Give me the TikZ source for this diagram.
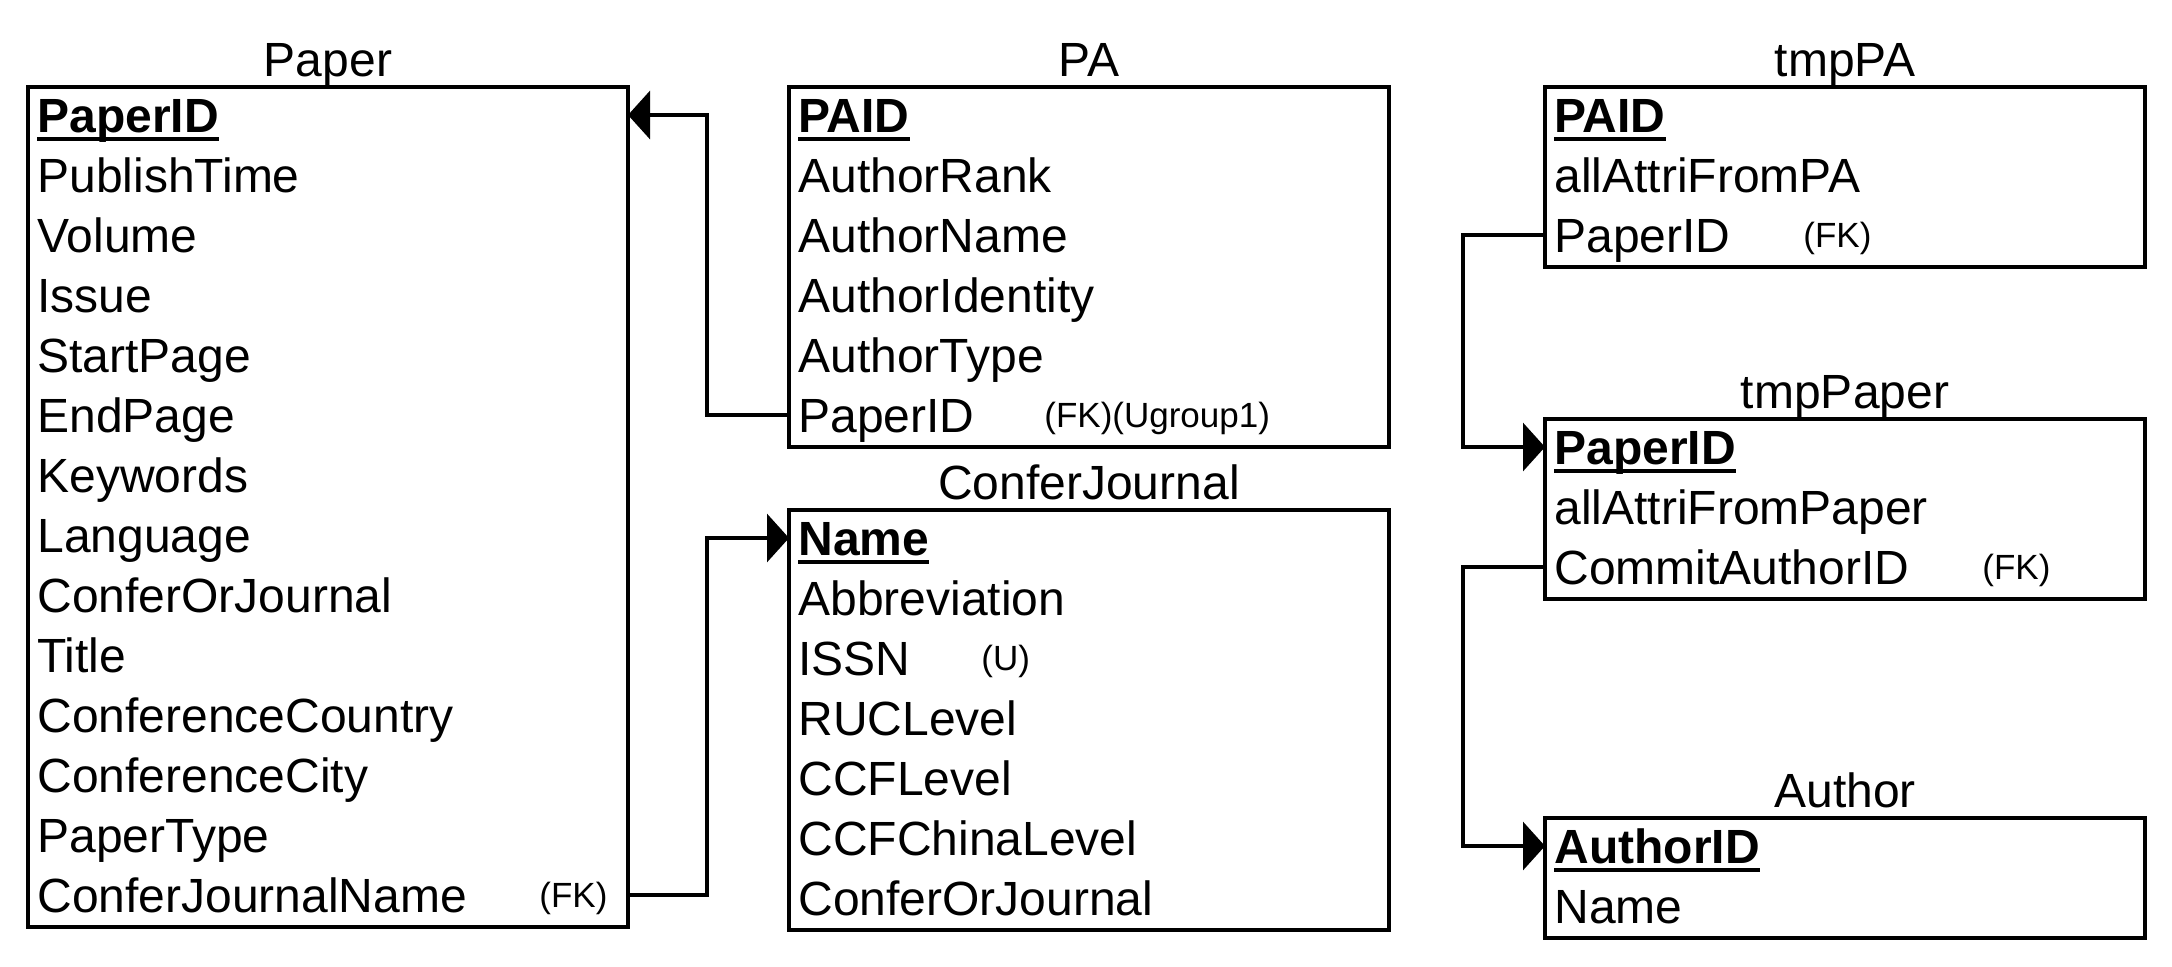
\documentclass[tikz,border=0pt]{standalone}
\usepackage{fontspec}
\setmainfont{Liberation Sans}
\usetikzlibrary{arrows.meta}
\newsavebox\pkbox
\newcommand{\pkey}[1]{\sbox\pkbox{\bfseries #1}\rlap{\rule[-4.5pt]{\wd\pkbox}{2pt}}\usebox\pkbox}
\begin{document}
\begin{tikzpicture}[x=0.5pt,y=-0.5pt,
  tbl/.style={draw, line width=2pt, minimum width=300pt, inner sep=0pt, outer sep=0pt, anchor=north west},
  fld/.style={anchor=base west, inner sep=0pt, font=\fontsize{24}{28}\selectfont},
  ttl/.style={anchor=base, inner sep=0pt, font=\fontsize{24}{28}\selectfont},
  note/.style={anchor=base west, inner sep=0pt, font=\fontsize{17.5}{20}\selectfont},
  conn/.style={line width=1.7pt, -{Triangle[length=11pt,width=24pt]}},
]
\useasboundingbox (0,0) rectangle (2172,966);
% tables
\node[tbl, minimum height=420pt] (paper) at (28,87) {};
\node[tbl, minimum height=180pt] (pa) at (789,87) {};
\node[tbl, minimum height=210pt] (cj) at (789,510) {};
\node[tbl, minimum height=90pt] (tpa) at (1545,87) {};
\node[tbl, minimum height=90pt] (tpp) at (1545,419) {};
\node[tbl, minimum height=60pt] (au) at (1545,818) {};
% titles
\node[ttl] (paper-t) at (328,76) {Paper};
\node[ttl] (pa-t) at (1089,76) {PA};
\node[ttl] (cj-t) at (1089,499) {ConferJournal};
\node[ttl] (tpa-t) at (1845,76) {tmpPA};
\node[ttl] (tpp-t) at (1845,408) {tmpPaper};
\node[ttl] (au-t) at (1845,807) {Author};
% fields
\foreach \t [count=\i from 0] in {{\pkey{PaperID}},PublishTime,Volume,Issue,StartPage,EndPage,Keywords,Language,ConferOrJournal,Title,ConferenceCountry,ConferenceCity,PaperType,ConferJournalName}{
  \node[fld] (paper-f\i) at (37,132+60*\i) {\t};
  \coordinate (paper-m\i) at (0,115+60*\i);
}
\foreach \t [count=\i from 0] in {{\pkey{PAID}},AuthorRank,AuthorName,AuthorIdentity,AuthorType,PaperID}{
  \node[fld] (pa-f\i) at (798,132+60*\i) {\t};
  \coordinate (pa-m\i) at (0,115+60*\i);
}
\foreach \t [count=\i from 0] in {{\pkey{Name}},Abbreviation,ISSN,RUCLevel,CCFLevel,CCFChinaLevel,ConferOrJournal}{
  \node[fld] (cj-f\i) at (798,555+60*\i) {\t};
  \coordinate (cj-m\i) at (0,538+60*\i);
}
\foreach \t [count=\i from 0] in {{\pkey{PAID}},allAttriFromPA,PaperID}{
  \node[fld] (tpa-f\i) at (1554,132+60*\i) {\t};
  \coordinate (tpa-m\i) at (0,115+60*\i);
}
\foreach \t [count=\i from 0] in {{\pkey{PaperID}},allAttriFromPaper,CommitAuthorID}{
  \node[fld] (tpp-f\i) at (1554,464+60*\i) {\t};
  \coordinate (tpp-m\i) at (0,447+60*\i);
}
\foreach \t [count=\i from 0] in {{\pkey{AuthorID}},Name}{
  \node[fld] (au-f\i) at (1554,863+60*\i) {\t};
  \coordinate (au-m\i) at (0,846+60*\i);
}
% notes
\node[note] (paper-fk) at (539,907) {(FK)};
\node[note] (pa-fk) at (1044,427) {(FK)(Ugroup1)};
\node[note] (cj-u) at (981,670) {(U)};
\node[note] (tpa-fk) at (1803,247) {(FK)};
\node[note] (tpp-fk) at (1982,579) {(FK)};
% connectors
\coordinate (bx1) at (707,0);
\coordinate (bx2) at (1463,0);
\draw[conn] (pa.west |- pa-m5) -- (bx1 |- pa-m5) -- (bx1 |- paper-m0) -- (paper.east |- paper-m0);
\draw[conn] (paper.east |- paper-m13) -- (bx1 |- paper-m13) -- (bx1 |- cj-m0) -- (cj.west |- cj-m0);
\draw[conn] (tpa.west |- tpa-m2) -- (bx2 |- tpa-m2) -- (bx2 |- tpp-m0) -- (tpp.west |- tpp-m0);
\draw[conn] (tpp.west |- tpp-m2) -- (bx2 |- tpp-m2) -- (bx2 |- au-m0) -- (au.west |- au-m0);
\end{tikzpicture}
\end{document}
